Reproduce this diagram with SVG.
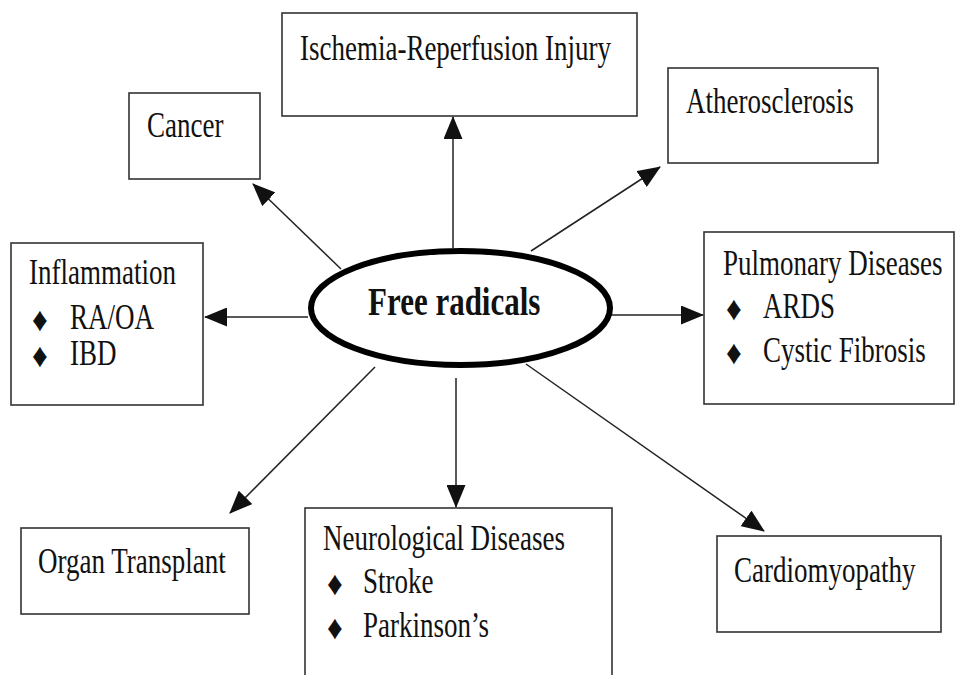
<svg xmlns="http://www.w3.org/2000/svg" width="955" height="675" viewBox="0 0 955 675">
<style>
.box { fill: #fff; stroke: #333; stroke-width: 1.6; }
.t { font-family: "Liberation Serif", "Times New Roman", serif; font-size: 27px; fill: #111; }
.b { font-family: "Liberation Serif", "Times New Roman", serif; font-size: 31px; font-weight: bold; fill: #111; }
.d { font-family: "Liberation Serif", "DejaVu Sans", serif; font-size: 31px; fill: #111; }
.c { stroke: #222; stroke-width: 1.5; fill: none; marker-end: url(#ah); }
</style>
<defs>
<marker id="ah" markerWidth="23" markerHeight="19" refX="22" refY="9.5" orient="auto" markerUnits="userSpaceOnUse">
<path d="M0,0 L23,9.5 L0,19 z" fill="#111"/>
</marker>
</defs>
<rect width="955" height="675" fill="#fff"/>
<g id="connectors">
<line class="c" x1="453" y1="248" x2="453" y2="117"/>
<line class="c" x1="341" y1="269" x2="253" y2="184"/>
<line class="c" x1="531" y1="251" x2="660" y2="167"/>
<line class="c" x1="308" y1="317" x2="205" y2="317"/>
<line class="c" x1="610" y1="315" x2="703" y2="315"/>
<line class="c" x1="375" y1="367" x2="230" y2="513"/>
<line class="c" x1="456" y1="378" x2="456" y2="507"/>
<line class="c" x1="526" y1="364" x2="764" y2="531"/>
</g>
<g id="free-radicals">
<ellipse cx="460.5" cy="308" rx="149.5" ry="57" fill="#fff" stroke="#000" stroke-width="6"/>
<text class="b" transform="translate(368,315) scale(1,1.27)">Free radicals</text>
</g>
<g id="ischemia">
<rect class="box" x="282" y="13" width="355" height="103"/>
<text class="t" transform="translate(300,60) scale(1,1.3)">Ischemia-Reperfusion Injury</text>
</g>
<g id="cancer">
<rect class="box" x="129" y="93" width="131" height="86"/>
<text class="t" transform="translate(147,137) scale(1,1.3)">Cancer</text>
</g>
<g id="atherosclerosis">
<rect class="box" x="668" y="68" width="210" height="95"/>
<text class="t" transform="translate(686,113) scale(1,1.3)">Atherosclerosis</text>
</g>
<g id="inflammation">
<rect class="box" x="11" y="243" width="192" height="162"/>
<text class="t" transform="translate(29,284) scale(1,1.3)">Inflammation</text>
<text class="d" transform="translate(32,331) scale(1,1.1)">♦</text>
<text class="t" transform="translate(70,329) scale(1,1.3)">RA/OA</text>
<text class="d" transform="translate(32,367) scale(1,1.1)">♦</text>
<text class="t" transform="translate(70,365) scale(1,1.3)">IBD</text>
</g>
<g id="pulmonary">
<rect class="box" x="704" y="232" width="250" height="172"/>
<text class="t" transform="translate(723,275) scale(1,1.3)">Pulmonary Diseases</text>
<text class="d" transform="translate(726,320) scale(1,1.1)">♦</text>
<text class="t" transform="translate(763,318) scale(1,1.3)">ARDS</text>
<text class="d" transform="translate(726,364) scale(1,1.1)">♦</text>
<text class="t" transform="translate(763,362) scale(1,1.3)">Cystic Fibrosis</text>
</g>
<g id="organ-transplant">
<rect class="box" x="21" y="528" width="228" height="86"/>
<text class="t" transform="translate(38,573) scale(1,1.3)">Organ Transplant</text>
</g>
<g id="neurological">
<rect class="box" x="305" y="508" width="307" height="180"/>
<text class="t" transform="translate(323,550) scale(1,1.3)">Neurological Diseases</text>
<text class="d" transform="translate(327,595) scale(1,1.1)">♦</text>
<text class="t" transform="translate(363,593) scale(1,1.3)">Stroke</text>
<text class="d" transform="translate(327,639) scale(1,1.1)">♦</text>
<text class="t" transform="translate(363,637) scale(1,1.3)">Parkinson’s</text>
</g>
<g id="cardiomyopathy">
<rect class="box" x="717" y="536" width="224" height="96"/>
<text class="t" transform="translate(734,582) scale(1,1.3)">Cardiomyopathy</text>
</g>
</svg>
